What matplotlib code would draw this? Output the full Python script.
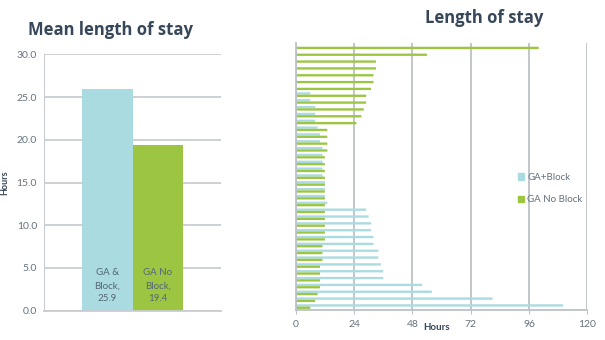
import matplotlib
matplotlib.use("Agg")
import matplotlib.pyplot as plt
import numpy as np
from matplotlib.patches import Patch

plt.rcParams["font.family"] = ["Lato", "DejaVu Sans"]

# left chart: mean length of stay
mean_groups = ["GA &\nBlock,", "GA No\nBlock,"]
mean_hours = [25.9, 19.4]
mean_ticks = [0, 5, 10, 15, 20, 25, 30]

# right chart: individual stays, top row first (None = no patient)
ga_block = [None, None, None, None, None, None, None,
            6, 6, 8, 8, 8, 9, 10, 10, 11, 11, 11, 11, 11,
            12, 12, 12, 13, 29, 30, 31, 31, 32, 32, 34, 34,
            35, 36, 36, 52, 56, 81, 110]
ga_no_block = [100, 54, 33, 33, 32, 32, 31, 29, 29, 28, 27, 25,
               13, 13, 13, 13, 12, 12, 12, 12, 12, 12, 12, 12,
               12, 12, 12, 12, 12, 11, 11, 11, 10, 10, 10, 10,
               9, 8, 6]
stay_ticks = [0, 24, 48, 72, 96, 120]

BLUE = "#a9dbe0"
GREEN = "#9cc641"
TITLE = "#37475a"
TEXT = "#66727f"
GRID = "#c9cdd3"

fig = plt.figure(figsize=(6.05, 3.4), dpi=100)

# ---- left: mean bars
ax1 = fig.add_axes([0.0727, 0.0862, 0.2926, 0.754])
xpos = np.arange(len(mean_hours))
ax1.bar(xpos, mean_hours, width=1.0, color=[BLUE, GREEN], zorder=2)
for x, lab, v in zip(xpos, mean_groups, mean_hours):
    ax1.text(x, 0.85, f"{lab}\n{v}", ha="center", va="bottom", fontsize=7,
             color="#56667a", linespacing=1.6, zorder=3)
ax1.set_xlim(-1.26, 2.25)
ax1.set_ylim(0, 30)
ax1.set_yticks(mean_ticks)
ax1.set_yticklabels([f"{t:.1f}" for t in mean_ticks])
ax1.set_xticks([])
ax1.yaxis.grid(True, color=GRID, lw=1.3, zorder=0)
ax1.tick_params(axis="y", length=0, labelsize=7.5, labelcolor=TEXT, pad=5)
for s in ["top", "right"]:
    ax1.spines[s].set_visible(False)
ax1.spines["left"].set_color(GRID)
ax1.spines["bottom"].set_color(GRID)
ax1.spines["bottom"].set_linewidth(1.3)
ax1.set_ylabel("Hours", fontsize=6.5, fontweight="bold", color=TITLE, labelpad=5)
fig.text(110 / 605, 1 - 30 / 340, "Mean length of stay", ha="center", va="center",
         fontsize=12, fontweight="bold", color=TITLE, family="Open Sans")

# ---- right: length of stay per patient
ax2 = fig.add_axes([0.4888, 0.0882, 0.482, 0.7844])
rows = np.arange(len(ga_no_block))
blue_vals = np.array([np.nan if v is None else v for v in ga_block], dtype=float)
h = 0.34
ax2.barh(rows - h / 2, blue_vals, height=h, color=BLUE, zorder=2, snap=False)
ax2.barh(rows + h / 2, ga_no_block, height=h, color=GREEN, zorder=2, snap=False)
ax2.set_ylim(len(rows) - 0.5, -0.5)
ax2.set_xlim(0, 120)
ax2.set_xticks(stay_ticks)
ax2.set_yticks([])
ax2.xaxis.grid(True, color="#bcc2c9", lw=1.3, zorder=0)
ax2.tick_params(axis="x", length=3, color="#bcc2c9", labelsize=7.5, labelcolor=TEXT, pad=4)
for s in ["top", "right"]:
    ax2.spines[s].set_visible(False)
ax2.spines["left"].set_color("#bcc2c9")
ax2.spines["bottom"].set_color("#bcc2c9")
ax2.spines["left"].set_linewidth(1.3)
ax2.spines["bottom"].set_linewidth(1.3)
fig.text(437 / 605, 1 - 327 / 340, "Hours", ha="center", va="center",
         fontsize=7, fontweight="bold", color=TITLE)
fig.text(484 / 605, 1 - 18 / 340, "Length of stay", ha="center", va="center",
         fontsize=12, fontweight="bold", color=TITLE, family="Open Sans")

handles = [Patch(color=BLUE), Patch(color=GREEN)]
ax2.legend(handles, ["GA+Block", "GA No Block"], loc="center left",
           bbox_to_anchor=(0.75, 0.455), frameon=False, fontsize=7,
           labelcolor=TEXT, handlelength=0.6, handleheight=0.6,
           handletextpad=0.3, labelspacing=1.4, borderaxespad=0)

fig.savefig("out.png", dpi=100)
